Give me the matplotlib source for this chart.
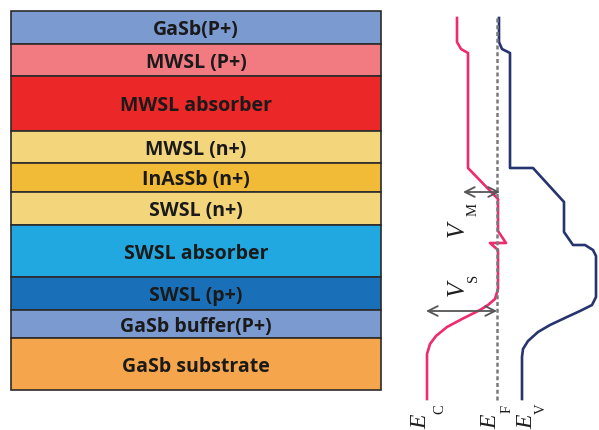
import matplotlib
matplotlib.use("Agg")
import matplotlib.pyplot as plt
from matplotlib.patches import Rectangle

# ---- layer stack (top to bottom) ----
layer_names = ["GaSb(P+)", "MWSL (P+)", "MWSL absorber", "MWSL (n+)", "InAsSb (n+)",
               "SWSL (n+)", "SWSL absorber", "SWSL (p+)", "GaSb buffer(P+)", "GaSb substrate"]
layer_bounds = [12, 45, 77, 132, 164, 193, 226, 278, 311, 339, 391]
layer_colors = ["#7b9ad0", "#f27b82", "#ec2727", "#f3d57b", "#f2bb37",
                "#f3d57b", "#21a8e0", "#1a70b8", "#7b9ad0", "#f5a54b"]

# ---- band profile: depth vs. energy ----
ec_depth = [19, 43, 50, 54, 169, 200, 232, 244, 244, 251, 290, 300, 306, 311, 320, 328, 337, 345, 355, 400]
ec_energy = [457, 457, 461, 468, 468, 498, 498, 506, 490, 498, 498, 495, 488, 480, 462, 447, 436, 430, 427, 427]
ev_depth = [19, 43, 50, 54, 169, 169, 203, 233, 246, 246, 251, 257, 298, 306, 312, 318, 326, 333, 342, 350, 358, 400]
ev_energy = [499, 499, 502, 510, 510, 533, 564, 564, 573, 585, 593, 596, 596, 592, 580, 567, 550, 538, 528, 523, 522, 522]
ef_energy = 497
ef_depth = [19, 403]

# potential barriers (depth, energy from, energy to)
vm_arrow = (193, 463, 500)
vs_arrow = (312, 426, 497)

fig = plt.figure(figsize=(5.99, 4.31), dpi=100)
ax = fig.add_axes([0, 0, 1, 1])
ax.set_xlim(0, 599)
ax.set_ylim(431, 0)
ax.axis("off")

stack_left, stack_right = 11, 381
for name, top, bot, col in zip(layer_names, layer_bounds[:-1], layer_bounds[1:], layer_colors):
    ax.add_patch(Rectangle((stack_left, top), stack_right - stack_left, bot - top,
                           facecolor=col, edgecolor="#2b2b2b", linewidth=1.2))
    ax.text((stack_left + stack_right) / 2, (top + bot) / 2 + 2, name,
            ha="center", va="center", fontsize=14, fontweight="bold",
            family="Open Sans", color="#1a1a1a")

ax.plot(ec_energy, ec_depth, color="#ee2b6c", lw=1.9, solid_joinstyle="round")
ax.plot(ev_energy, ev_depth, color="#26346f", lw=1.9, solid_joinstyle="round")
ax.plot([ef_energy, ef_energy], ef_depth, color="#7a7a7a", lw=1.8, linestyle=(0, (1.6, 1.1)))

for y, x0, x1 in (vm_arrow, vs_arrow):
    ax.annotate("", xy=(x0, y), xytext=(x1, y),
                arrowprops=dict(arrowstyle="<->,head_length=0.7,head_width=0.35",
                                color="#555555", lw=1.3, shrinkA=0, shrinkB=0))

serif = dict(family="Liberation Serif", style="italic", color="#1e1e1e",
             rotation=90, ha="center", va="center")
sub = dict(family="Liberation Serif", color="#1e1e1e", rotation=90,
           ha="center", va="center")

ax.text(458, 229, "V", fontsize=18, **serif)
ax.text(473.5, 210, "M", fontsize=10.5, **sub)
ax.text(458, 288, "V", fontsize=18, **serif)
ax.text(473.5, 277.5, "S", fontsize=10.5, **sub)

ax.text(420.5, 422, "E", fontsize=17, **serif)
ax.text(440, 409, "C", fontsize=10.5, **sub)
ax.text(490.5, 422, "E", fontsize=17, **serif)
ax.text(507.5, 408.5, "F", fontsize=10.5, **sub)
ax.text(526.5, 422, "E", fontsize=17, **serif)
ax.text(541, 409, "V", fontsize=10.5, **sub)

fig.savefig("out.png", dpi=100)
